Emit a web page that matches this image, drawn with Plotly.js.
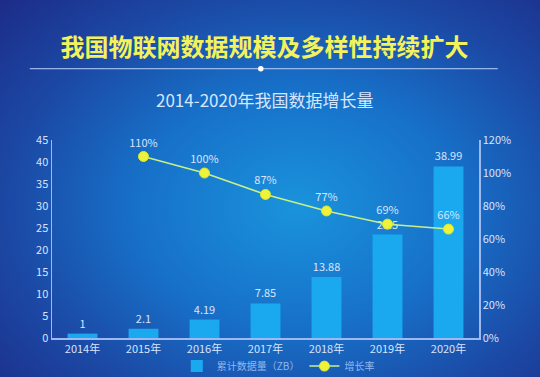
<!DOCTYPE html>
<html>
<head>
<meta charset="utf-8">
<script src="https://cdn.plot.ly/plotly-3.0.1.min.js"></script>
<style>
html,body{margin:0;padding:0;}
body{width:540px;height:377px;overflow:hidden;
background: radial-gradient(ellipse 75% 80% at 55% 55%, #1a93dc 0%, #1770c8 40%, #1b4aa6 70%, #1c2c88 100%);}
#chart{width:540px;height:377px;}
</style>
</head>
<body>
<div id="chart"></div>
<script>
const years = ['2014年','2015年','2016年','2017年','2018年','2019年','2020年'];
const dataVolume = [1, 2.1, 4.19, 7.85, 13.88, 23.5, 38.99];
const growthYears = ['2015年','2016年','2017年','2018年','2019年','2020年'];
const growthRate = [110, 100, 87, 77, 69, 66];

const font = '"Noto Sans CJK SC", "Noto Sans", sans-serif';
const axisColor = '#9cb9f2';
const labelColor = '#d7e4ff';

const traces = [
  {
    type: 'bar', name: '累计数据量（ZB）', x: years, y: dataVolume,
    marker: {color: '#1aa9ef'}, width: 0.49,
    text: dataVolume.map(String), textposition: 'outside', cliponaxis: false,
    textfont: {color: labelColor, size: 11, family: font},
    hoverinfo: 'none'
  },
  {
    type: 'scatter', mode: 'lines+markers+text', name: '增长率', x: growthYears, y: growthRate,
    yaxis: 'y2',
    line: {color: '#c8f08a', width: 1.5},
    marker: {color: '#eef23a', size: 10, line: {color: '#d8e830', width: 1}},
    text: growthRate.map(v => v + '%'), textposition: 'top center', cliponaxis: false,
    textfont: {color: labelColor, size: 11, family: font},
    hoverinfo: 'none'
  }
];

const layout = {
  width: 540, height: 377,
  paper_bgcolor: 'rgba(0,0,0,0)', plot_bgcolor: 'rgba(0,0,0,0)',
  margin: {l: 52, r: 61, t: 140, b: 39, autoexpand: false},
  font: {family: font, color: labelColor},
  showlegend: true,
  legend: {orientation: 'h', x: 0.53, xanchor: 'center', y: -0.142, yanchor: 'middle',
    font: {size: 10, color: '#8fb8f0', family: font}, bgcolor: 'rgba(0,0,0,0)'},
  title: {text: '<b>我国物联网数据规模及多样性持续扩大</b>', x: 0.49, xanchor: 'center', y: 0.873, yanchor: 'middle',
    font: {size: 24, color: '#f4f25a', family: font}},
  xaxis: {type: 'category', showline: true, linecolor: axisColor, linewidth: 1.5, ticks: '',
    showgrid: false, zeroline: false, tickfont: {size: 11, color: labelColor, family: font}},
  yaxis: {range: [0, 45], dtick: 5, showline: true, linecolor: axisColor, linewidth: 1.5, ticks: '',
    showgrid: false, zeroline: false, tickfont: {size: 11, color: labelColor, family: font}},
  yaxis2: {range: [0, 120], dtick: 20, ticksuffix: '%', overlaying: 'y', side: 'right',
    showline: true, linecolor: axisColor, linewidth: 1.5, ticks: '', showgrid: false, zeroline: false,
    tickfont: {size: 11, color: labelColor, family: font}},
  annotations: [
    {text: '2014-2020年我国数据增长量', xref: 'paper', yref: 'paper', x: 0.498, y: 1.203,
     xanchor: 'center', yanchor: 'middle', showarrow: false,
     font: {size: 17, color: '#d6e6ff', family: font}}
  ],
  shapes: [
    {type: 'line', xref: 'paper', yref: 'paper', x0: -0.052, x1: 1.044, y0: 1.36, y1: 1.36,
     line: {color: '#b9d2ff', width: 1}},
    {type: 'circle', xref: 'paper', yref: 'paper', x0: 0.4825, x1: 0.4955, y0: 1.346, y1: 1.374,
     fillcolor: '#ffffff', line: {width: 0}}
  ]
};

Plotly.newPlot('chart', traces, layout, {displayModeBar: false, staticPlot: true});
</script>
</body>
</html>
